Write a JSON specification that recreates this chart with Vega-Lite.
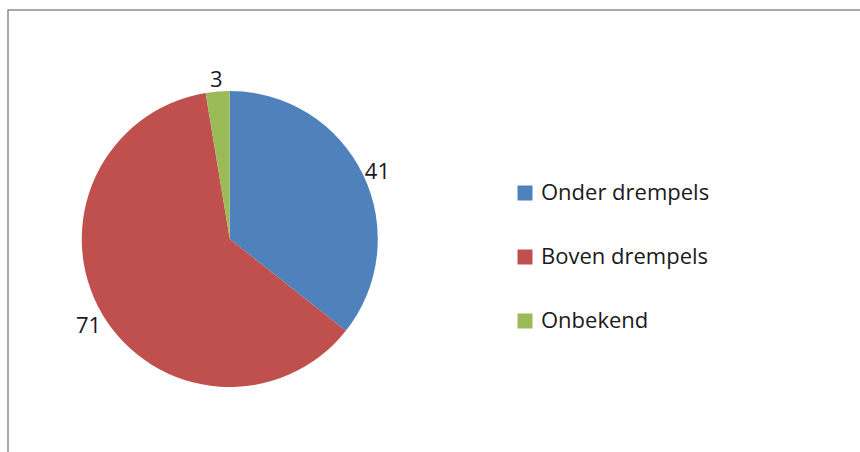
{
  "$schema": "https://vega.github.io/schema/vega-lite/v6.json",
  "autosize": {"type": "none"},
  "padding": {"left": 8, "top": 10, "right": 0, "bottom": 0},
  "width": 853,
  "height": 443,
  "background": "white",
  "config": {
    "view": {"stroke": "#8c8c8c", "strokeWidth": 1.5},
    "font": "Open Sans"
  },
  "data": {
    "values": [
      {"category": "Onder drempels", "value": 41, "order": 1},
      {"category": "Boven drempels", "value": 71, "order": 2},
      {"category": "Onbekend", "value": 3, "order": 3}
    ]
  },
  "encoding": {
    "theta": {"field": "value", "type": "quantitative", "stack": true},
    "order": {"field": "order", "type": "quantitative"},
    "x": {"datum": 0.26, "type": "quantitative", "scale": {"domain": [0, 1]}, "axis": null},
    "y": {"datum": 0.4831, "type": "quantitative", "scale": {"domain": [0, 1]}, "axis": null}
  },
  "layer": [
    {
      "mark": {"type": "arc", "outerRadius": 148},
      "encoding": {
        "color": {
          "field": "category",
          "type": "nominal",
          "sort": ["Onder drempels", "Boven drempels", "Onbekend"],
          "scale": {
            "domain": ["Onder drempels", "Boven drempels", "Onbekend"],
            "range": ["#4F81BD", "#C0504D", "#9BBB59"]
          },
          "legend": {
            "title": null,
            "orient": "none",
            "legendX": 506,
            "legendY": 172,
            "symbolType": "square",
            "symbolSize": 225,
            "symbolStrokeWidth": 0,
            "symbolOpacity": 1,
            "labelFont": "Open Sans",
            "labelFontSize": 22,
            "labelLimit": 400,
            "labelColor": "#1a1a1a",
            "labelOffset": 5,
            "rowPadding": 42
          }
        }
      }
    },
    {
      "mark": {"type": "text", "radius": 164, "dy": 4, "fontSize": 22, "font": "Open Sans", "color": "#1a1a1a"},
      "encoding": {
        "text": {"field": "value", "type": "quantitative"}
      }
    }
  ]
}
